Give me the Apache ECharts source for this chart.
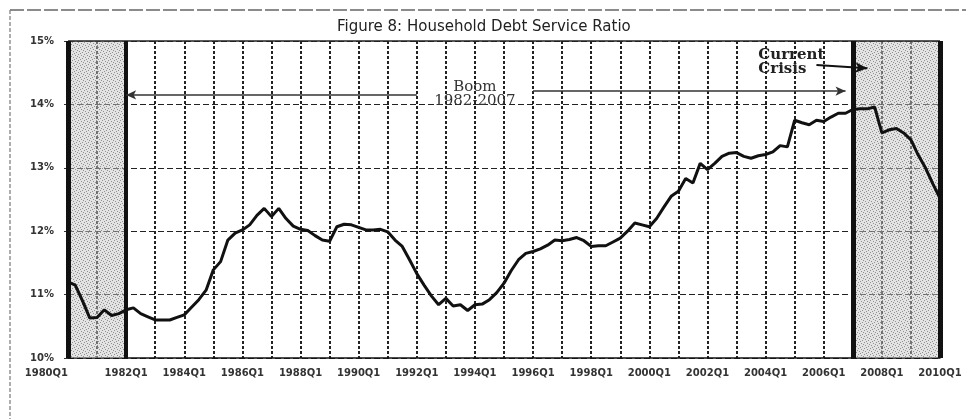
<!DOCTYPE html>
<html>
<head>
<meta charset="utf-8">
<script src="https://cdn.jsdelivr.net/npm/echarts@6/dist/echarts.min.js"></script>
<style>
  html, body { margin: 0; padding: 0; background: #fff; }
  #container { width: 966px; height: 419px; }
</style>
</head>
<body>
<div id="container"></div>
<script>
var years = [];
for (var y = 1980; y <= 2010; y++) years.push(y);
var quarters = [];
years.forEach(function (yr) {
  ['Q1', 'Q2', 'Q3', 'Q4'].forEach(function (q) {
    if (yr < 2010 || q === 'Q1') quarters.push(yr + q);
  });
});

// debt service ratio, % of disposable income, 1980Q1 .. 2010Q1
var dsr = [
  11.20, 11.15, 10.90, 10.63, 10.64, 10.76, 10.67, 10.70,
  10.76, 10.79, 10.70, 10.65, 10.60, 10.60, 10.60, 10.64,
  10.68, 10.80, 10.92, 11.07, 11.39, 11.52, 11.86, 11.97,
  12.02, 12.10, 12.25, 12.36, 12.23, 12.36, 12.20, 12.08,
  12.03, 12.01, 11.93, 11.86, 11.84, 12.07, 12.11, 12.10,
  12.06, 12.02, 12.02, 12.03, 11.99, 11.86, 11.76, 11.55,
  11.33, 11.15, 10.98, 10.84, 10.94, 10.82, 10.84, 10.75,
  10.84, 10.85, 10.92, 11.03, 11.18, 11.38, 11.55, 11.65,
  11.68, 11.72, 11.78, 11.86, 11.85, 11.87, 11.90, 11.85,
  11.76, 11.77, 11.77, 11.83, 11.89, 12.00, 12.13, 12.10,
  12.07, 12.20, 12.38, 12.55, 12.63, 12.83, 12.76, 13.07,
  12.97, 13.07, 13.18, 13.23, 13.24, 13.18, 13.15, 13.19,
  13.21, 13.25, 13.35, 13.33, 13.75, 13.71, 13.68, 13.75,
  13.73, 13.80, 13.86, 13.86, 13.92, 13.93, 13.93, 13.96,
  13.55, 13.60, 13.62, 13.55, 13.44, 13.20, 13.00, 12.75,
  12.52
];

var shaded = [['1980Q1', '1982Q1'], ['2007Q1', '2010Q1']];
var yTicks = [10, 11, 12, 13, 14, 15];

// speckled fill like the scanned shading
var tex = document.createElement('canvas');
tex.width = 6; tex.height = 6;
var tc = tex.getContext('2d');
tc.fillStyle = 'rgba(200,200,200,0.5)';
tc.fillRect(0, 0, 6, 6);
tc.fillStyle = 'rgba(90,90,90,0.6)';
[[0, 0], [3, 1], [1, 3], [4, 4], [5, 2], [2, 5]].forEach(function (p) { tc.fillRect(p[0], p[1], 1, 1); });

var dom = document.getElementById('container');
var myChart = echarts.init(dom, null, { renderer: 'canvas' });

var option = {
  animation: false,
  backgroundColor: '#fff',
  title: {
    text: 'Figure 8: Household Debt Service Ratio',
    left: 332,
    top: 15,
    textStyle: { fontFamily: 'DejaVu Sans', fontSize: 15, fontWeight: 'normal', color: '#222' }
  },
  graphic: [
    {
      type: 'line', silent: true,
      shape: { x1: 10, y1: 10, x2: 966, y2: 10 },
      style: { stroke: '#666', lineWidth: 1.5, lineDash: [14, 3] }
    },
    {
      type: 'line', silent: true,
      shape: { x1: 10, y1: 10, x2: 10, y2: 419 },
      style: { stroke: '#777', lineWidth: 1.2, lineDash: [4, 2] }
    }
  ],
  grid: { left: 68, right: 26, top: 41, bottom: 61 },
  xAxis: {
    type: 'category',
    boundaryGap: false,
    data: quarters,
    axisLine: { lineStyle: { color: '#111', width: 1.5 } },
    axisTick: { show: false },
    axisLabel: {
      interval: 7, margin: 10, alignMinLabel: 'right',
      fontFamily: 'DejaVu Sans', fontSize: 10, fontWeight: 'bold', color: '#333'
    },
    splitLine: { show: true, interval: 3, lineStyle: { type: [3, 2], color: '#222', width: 2 } }
  },
  yAxis: {
    type: 'value',
    min: yTicks[0],
    max: yTicks[yTicks.length - 1],
    interval: 1,
    axisLine: { show: false },
    axisTick: { show: true, length: 4, lineStyle: { color: '#333' } },
    axisLabel: {
      formatter: '{value}%', margin: 14,
      fontFamily: 'DejaVu Sans', fontSize: 10, fontWeight: 'bold', color: '#333'
    },
    splitLine: { lineStyle: { type: [6, 3], color: '#222', width: 1.2 } }
  },
  series: [
    {
      type: 'line',
      z: 1,
      data: [],
      markArea: {
        silent: true,
        itemStyle: { color: { image: tex, repeat: 'repeat' } },
        data: shaded.map(function (s) { return [{ xAxis: s[0] }, { xAxis: s[1] }]; })
      }
    },
    {
      name: 'Debt service ratio',
      type: 'line',
      z: 5,
      data: dsr,
      showSymbol: false,
      lineStyle: { color: '#111', width: 3 },
      markLine: {
        silent: true,
        symbol: 'none',
        label: { show: false },
        data: [
          { yAxis: 15, lineStyle: { type: 'solid', color: '#222', width: 1.5 } },
          { xAxis: shaded[0][0], lineStyle: { type: 'solid', color: '#111', width: 5 } },
          { xAxis: shaded[0][1], lineStyle: { type: 'solid', color: '#111', width: 4 } },
          { xAxis: shaded[1][0], lineStyle: { type: 'solid', color: '#111', width: 5 } },
          { xAxis: shaded[1][1], lineStyle: { type: 'solid', color: '#111', width: 5 } },
          [
            { coord: ['1992Q1', 14.15], symbol: 'none' },
            { coord: ['1982Q1', 14.15], symbol: 'arrow', symbolSize: [7, 10], lineStyle: { type: 'solid', color: '#333', width: 1.5 } }
          ],
          [
            { coord: ['1996Q1', 14.21], symbol: 'none' },
            { coord: ['2006Q4', 14.21], symbol: 'arrow', symbolSize: [7, 10], lineStyle: { type: 'solid', color: '#333', width: 1.5 } }
          ],
          [
            { coord: ['2005Q4', 14.62], symbol: 'none' },
            { coord: ['2007Q3', 14.57], symbol: 'arrow', symbolSize: [8, 12], lineStyle: { type: 'solid', color: '#111', width: 2 } }
          ]
        ]
      },
      markPoint: {
        silent: true,
        symbolSize: 0,
        data: [
          {
            coord: ['1994Q1', 14.17],
            label: {
              show: true, position: 'inside', formatter: 'Boom\n1982-2007',
              fontFamily: 'DejaVu Serif', fontSize: 15, lineHeight: 14, color: '#333', align: 'center'
            }
          },
          {
            coord: ['2003Q4', 14.67],
            label: {
              show: true, position: 'right', distance: 0, formatter: 'Current\nCrisis',
              fontFamily: 'DejaVu Serif', fontWeight: 'bold', fontSize: 15, lineHeight: 14, color: '#222', align: 'left'
            }
          }
        ]
      }
    }
  ]
};

myChart.setOption(option);
window.addEventListener('resize', myChart.resize);
</script>
</body>
</html>
